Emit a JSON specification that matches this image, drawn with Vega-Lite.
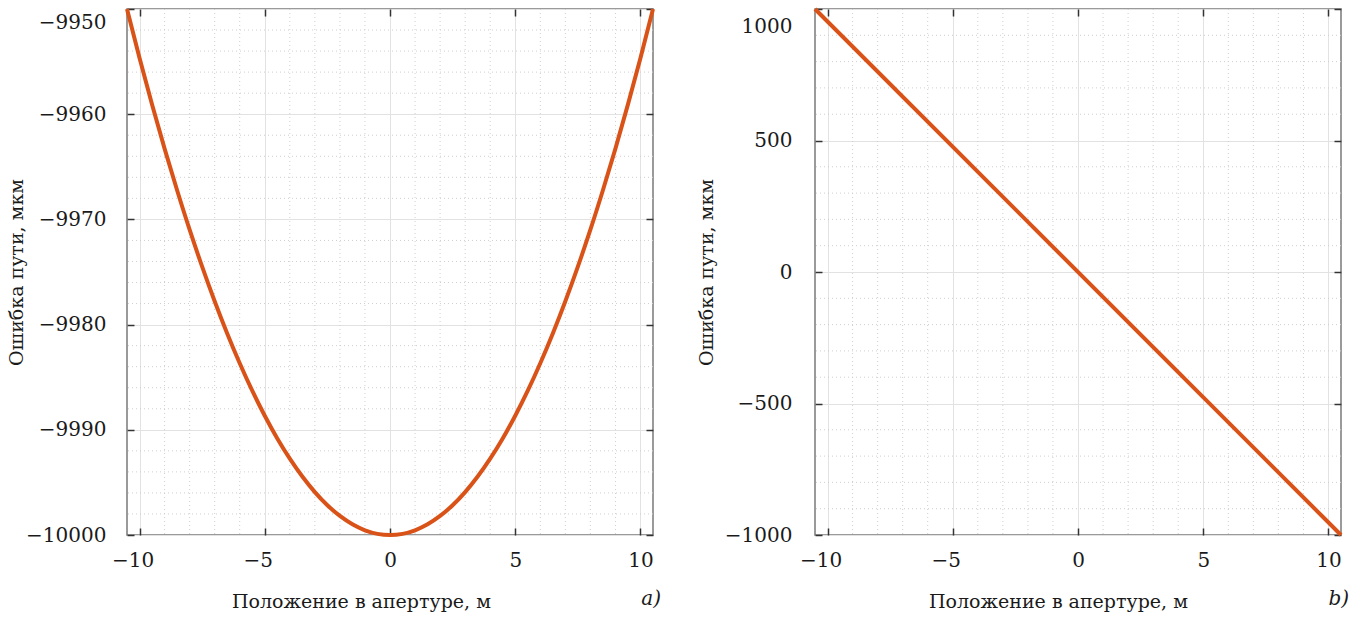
{
  "$schema": "https://vega.github.io/schema/vega-lite/v6.json",
  "background": "white",
  "padding": {"left": 6, "top": 0, "right": 5, "bottom": 0},
  "bounds": "flush",
  "spacing": 162,
  "config": {
    "font": "DejaVu Serif",
    "view": {"stroke": "#7a7a7a", "strokeWidth": 1.5},
    "axis": {
      "labelFont": "DejaVu Serif", "titleFont": "DejaVu Serif",
      "labelFontSize": 20, "titleFontSize": 19, "titleFontWeight": "normal",
      "labelColor": "#1a1a1a", "titleColor": "#1a1a1a",
      "domain": false, "tickColor": "#333333", "tickSize": -7, "tickWidth": 1.5,
      "gridColor": "#e2e2e2", "gridWidth": 1, "labelPadding": 22
    }
  },
  "datasets": {
    "vminor": [{"x": -9}, {"x": -8}, {"x": -7}, {"x": -6}, {"x": -4}, {"x": -3}, {"x": -2}, {"x": -1}, {"x": 1}, {"x": 2}, {"x": 3}, {"x": 4}, {"x": 6}, {"x": 7}, {"x": 8}, {"x": 9}],
    "hminorA": [{"y": -9998}, {"y": -9996}, {"y": -9994}, {"y": -9992}, {"y": -9988}, {"y": -9986}, {"y": -9984}, {"y": -9982}, {"y": -9978}, {"y": -9976}, {"y": -9974}, {"y": -9972}, {"y": -9968}, {"y": -9966}, {"y": -9964}, {"y": -9962}, {"y": -9958}, {"y": -9956}, {"y": -9954}, {"y": -9952}],
    "hminorB": [{"y": -900}, {"y": -800}, {"y": -700}, {"y": -600}, {"y": -400}, {"y": -300}, {"y": -200}, {"y": -100}, {"y": 100}, {"y": 200}, {"y": 300}, {"y": 400}, {"y": 600}, {"y": 700}, {"y": 800}, {"y": 900}],
    "parab": [
      {"x": -10.5, "y": -9950}, {"x": -10, "y": -9954.65}, {"x": -9.5, "y": -9959.07}, {"x": -9, "y": -9963.27},
      {"x": -8.5, "y": -9967.23}, {"x": -8, "y": -9970.98}, {"x": -7.5, "y": -9974.49}, {"x": -7, "y": -9977.78},
      {"x": -6.5, "y": -9980.84}, {"x": -6, "y": -9983.67}, {"x": -5.5, "y": -9986.28}, {"x": -5, "y": -9988.66},
      {"x": -4.5, "y": -9990.82}, {"x": -4, "y": -9992.74}, {"x": -3.5, "y": -9994.44}, {"x": -3, "y": -9995.92},
      {"x": -2.5, "y": -9997.17}, {"x": -2, "y": -9998.19}, {"x": -1.5, "y": -9998.98}, {"x": -1, "y": -9999.55},
      {"x": -0.5, "y": -9999.89}, {"x": 0, "y": -10000}, {"x": 0.5, "y": -9999.89}, {"x": 1, "y": -9999.55},
      {"x": 1.5, "y": -9998.98}, {"x": 2, "y": -9998.19}, {"x": 2.5, "y": -9997.17}, {"x": 3, "y": -9995.92},
      {"x": 3.5, "y": -9994.44}, {"x": 4, "y": -9992.74}, {"x": 4.5, "y": -9990.82}, {"x": 5, "y": -9988.66},
      {"x": 5.5, "y": -9986.28}, {"x": 6, "y": -9983.67}, {"x": 6.5, "y": -9980.84}, {"x": 7, "y": -9977.78},
      {"x": 7.5, "y": -9974.49}, {"x": 8, "y": -9970.98}, {"x": 8.5, "y": -9967.23}, {"x": 9, "y": -9963.27},
      {"x": 9.5, "y": -9959.07}, {"x": 10, "y": -9954.65}, {"x": 10.5, "y": -9950}
    ],
    "lin": [{"x": -10.5, "y": 1000}, {"x": 10.5, "y": -1000}]
  },
  "hconcat": [
    {
      "width": 526, "height": 526,
      "title": {"text": "a)", "orient": "bottom", "anchor": "end", "fontStyle": "italic", "fontWeight": "normal", "fontSize": 20, "font": "DejaVu Serif", "color": "#1a1a1a", "offset": -22},
      "resolve": {"axis": {"x": "independent", "y": "independent"}},
      "layer": [
        {
          "data": {"name": "vminor"},
          "mark": {"type": "rule", "color": "#cfcfcf", "strokeDash": [1, 3], "strokeWidth": 1},
          "encoding": {
            "x": {"field": "x", "type": "quantitative", "scale": {"domain": [-10.5, 10.5], "nice": false, "zero": false},
                  "axis": {"orient": "top", "values": [-10, -5, 0, 5, 10], "labels": false, "grid": false, "title": null}}
          }
        },
        {
          "data": {"name": "hminorA"},
          "mark": {"type": "rule", "color": "#cfcfcf", "strokeDash": [1, 3], "strokeWidth": 1},
          "encoding": {
            "y": {"field": "y", "type": "quantitative", "scale": {"domain": [-10000, -9950], "nice": false, "zero": false},
                  "axis": {"orient": "right", "values": [-10000, -9990, -9980, -9970, -9960, -9950], "labels": false, "grid": false, "title": null}}
          }
        },
        {
          "data": {"name": "parab"},
          "mark": {"type": "line", "color": "#D95319", "strokeWidth": 4, "interpolate": "monotone", "clip": false},
          "encoding": {
            "x": {"field": "x", "type": "quantitative", "scale": {"domain": [-10.5, 10.5], "nice": false, "zero": false},
                  "axis": {"orient": "bottom", "values": [-10, -5, 0, 5, 10], "grid": true, "format": "d", "title": "Положение в апертуре, м",
                           "titleX": 234, "titlePadding": 22,
                           "labelOffset": {"condition": {"test": "datum.value < 0", "value": -7}, "value": 0}}},
            "y": {"field": "y", "type": "quantitative", "scale": {"domain": [-10000, -9950], "nice": false, "zero": false},
                  "axis": {"orient": "left", "values": [-10000, -9990, -9980, -9970, -9960, -9950], "grid": true, "format": "d", "title": "Ошибка пути, мкм",
                           "titlePadding": -1, "labelPadding": 28,
                           "labelOffset": {"condition": {"test": "datum.value == -9950", "value": 13}, "value": 0}}}
          }
        }
      ]
    },
    {
      "width": 526, "height": 526,
      "title": {"text": "b)", "orient": "bottom", "anchor": "end", "fontStyle": "italic", "fontWeight": "normal", "fontSize": 20, "font": "DejaVu Serif", "color": "#1a1a1a", "offset": -22},
      "resolve": {"axis": {"x": "independent", "y": "independent"}},
      "layer": [
        {
          "data": {"name": "vminor"},
          "mark": {"type": "rule", "color": "#cfcfcf", "strokeDash": [1, 3], "strokeWidth": 1},
          "encoding": {
            "x": {"field": "x", "type": "quantitative", "scale": {"domain": [-10.5, 10.5], "nice": false, "zero": false},
                  "axis": {"orient": "top", "values": [-10, -5, 0, 5, 10], "labels": false, "grid": false, "title": null}}
          }
        },
        {
          "data": {"name": "hminorB"},
          "mark": {"type": "rule", "color": "#cfcfcf", "strokeDash": [1, 3], "strokeWidth": 1},
          "encoding": {
            "y": {"field": "y", "type": "quantitative", "scale": {"domain": [-1000, 1000], "nice": false, "zero": false},
                  "axis": {"orient": "right", "values": [-1000, -500, 0, 500, 1000], "labels": false, "grid": false, "title": null}}
          }
        },
        {
          "data": {"name": "lin"},
          "mark": {"type": "line", "color": "#D95319", "strokeWidth": 4, "clip": false},
          "encoding": {
            "x": {"field": "x", "type": "quantitative", "scale": {"domain": [-10.5, 10.5], "nice": false, "zero": false},
                  "axis": {"orient": "bottom", "values": [-10, -5, 0, 5, 10], "grid": true, "format": "d", "title": "Положение в апертуре, м",
                           "titleX": 243, "titlePadding": 22,
                           "labelOffset": {"condition": {"test": "datum.value < 0", "value": -7}, "value": 0}}},
            "y": {"field": "y", "type": "quantitative", "scale": {"domain": [-1000, 1000], "nice": false, "zero": false},
                  "axis": {"orient": "left", "values": [-1000, -500, 0, 500, 1000], "grid": true, "format": "d", "title": "Ошибка пути, мкм",
                           "titlePadding": 8, "labelPadding": 30,
                           "labelOffset": {"condition": {"test": "datum.value == 1000", "value": 17}, "value": 0}}}
          }
        }
      ]
    }
  ]
}
